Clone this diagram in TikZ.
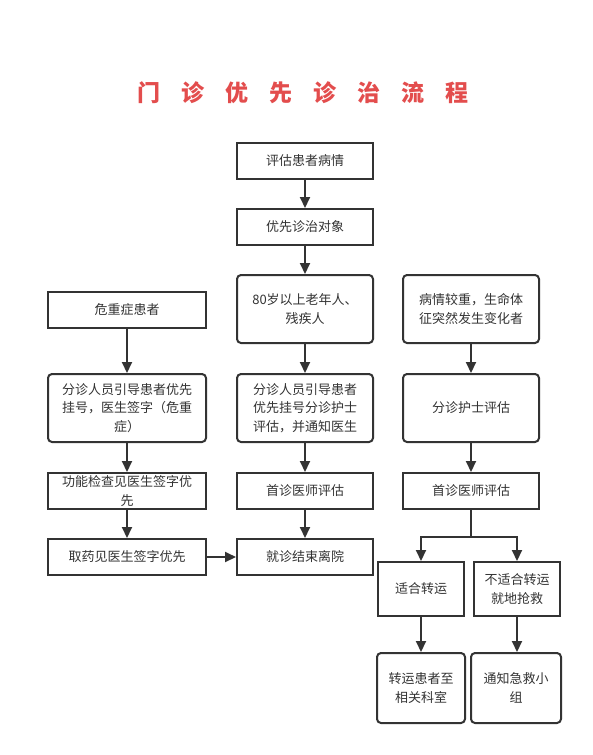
\documentclass[tikz,border=0pt]{standalone}
\usepackage{fontspec}
\setmainfont{Noto Sans CJK SC}
\usetikzlibrary{arrows.meta}
\definecolor{ink}{HTML}{333333}
\definecolor{titlered}{HTML}{E34D4D}
\begin{document}
\begin{tikzpicture}[x=1pt,y=-1pt,
  box/.style={draw=ink,line width=2pt,inner sep=0pt,align=center,text=ink,
    font=\fontsize{13}{18.5}\selectfont},
  rbox/.style={box,rounded corners=4pt},
  arr/.style={draw=ink,line width=2pt,-{Triangle[length=11pt,width=10pt]}},
  ln/.style={draw=ink,line width=2pt}]
\useasboundingbox (0,0) rectangle (593,755);
\fill[white] (0,0) rectangle (593,755);
\node[text=titlered,font=\fontsize{23}{26}\bfseries\selectfont] (title) at (303,93)
  {门\hspace{21pt}诊\hspace{21pt}优\hspace{21pt}先\hspace{21pt}诊\hspace{21pt}治\hspace{21pt}流\hspace{21pt}程};
% middle column
\node[box,minimum width=136pt,minimum height=36pt] (n1) at (305,161) {评估患者病情};
\node[box,minimum width=136pt,minimum height=36pt] (n2) at (305,227) {优先诊治对象};
\node[rbox,minimum width=136pt,minimum height=68pt] (n3) at (305,309) {80岁以上老年人、\\残疾人};
\node[rbox,minimum width=136pt,minimum height=68pt] (m2) at (305,408) {分诊人员引导患者\\优先挂号分诊护士\\评估，并通知医生};
\node[box,minimum width=136pt,minimum height=36pt] (m3) at (305,491) {首诊医师评估};
\node[box,minimum width=136pt,minimum height=36pt] (m4) at (305,557) {就诊结束离院};
% left column
\node[box,minimum width=158pt,minimum height=36pt] (a1) at (127,310) {危重症患者};
\node[rbox,minimum width=158pt,minimum height=68pt] (a2) at (127,408) {分诊人员引导患者优先\\挂号，医生签字（危重\\症）};
\node[box,minimum width=158pt,minimum height=36pt] (a3) at (127,491) {功能检查见医生签字优\\先};
\node[box,minimum width=158pt,minimum height=36pt] (a4) at (127,557) {取药见医生签字优先};
% right column
\node[rbox,minimum width=136pt,minimum height=68pt] (r1) at (471,309) {病情较重，生命体\\征突然发生变化者};
\node[rbox,minimum width=136pt,minimum height=68pt] (r2) at (471,408) {分诊护士评估};
\node[box,minimum width=136pt,minimum height=36pt] (r3) at (471,491) {首诊医师评估};
\node[box,minimum width=86pt,minimum height=54pt] (b1) at (421,589) {适合转运};
\node[box,minimum width=86pt,minimum height=54pt] (b2) at (517,589) {不适合转运\\就地抢救};
\node[rbox,minimum width=88pt,minimum height=70pt] (c1) at (421,688) {转运患者至\\相关科室};
\node[rbox,minimum width=90pt,minimum height=70pt] (c2) at (516,688) {通知急救小\\组};
\coordinate (br) at (471,537);
% connectors
\draw[arr] (n1) -- (n2);
\draw[arr] (n2) -- (n3);
\draw[arr] (n3) -- (m2);
\draw[arr] (m2) -- (m3);
\draw[arr] (m3) -- (m4);
\draw[arr] (a1) -- (a2);
\draw[arr] (a2) -- (a3);
\draw[arr] (a3) -- (a4);
\draw[arr] (a4) -- (m4);
\draw[arr] (r1) -- (r2);
\draw[arr] (r2) -- (r3);
\draw[ln] (r3.south) -- (br);
\draw[arr] (br) -| (b1.north);
\draw[arr] (br) -| (b2.north);
\draw[arr] (b1) -- (b1.south |- c1.north);
\draw[arr] (b2) -- (b2.south |- c2.north);
\end{tikzpicture}
\end{document}
